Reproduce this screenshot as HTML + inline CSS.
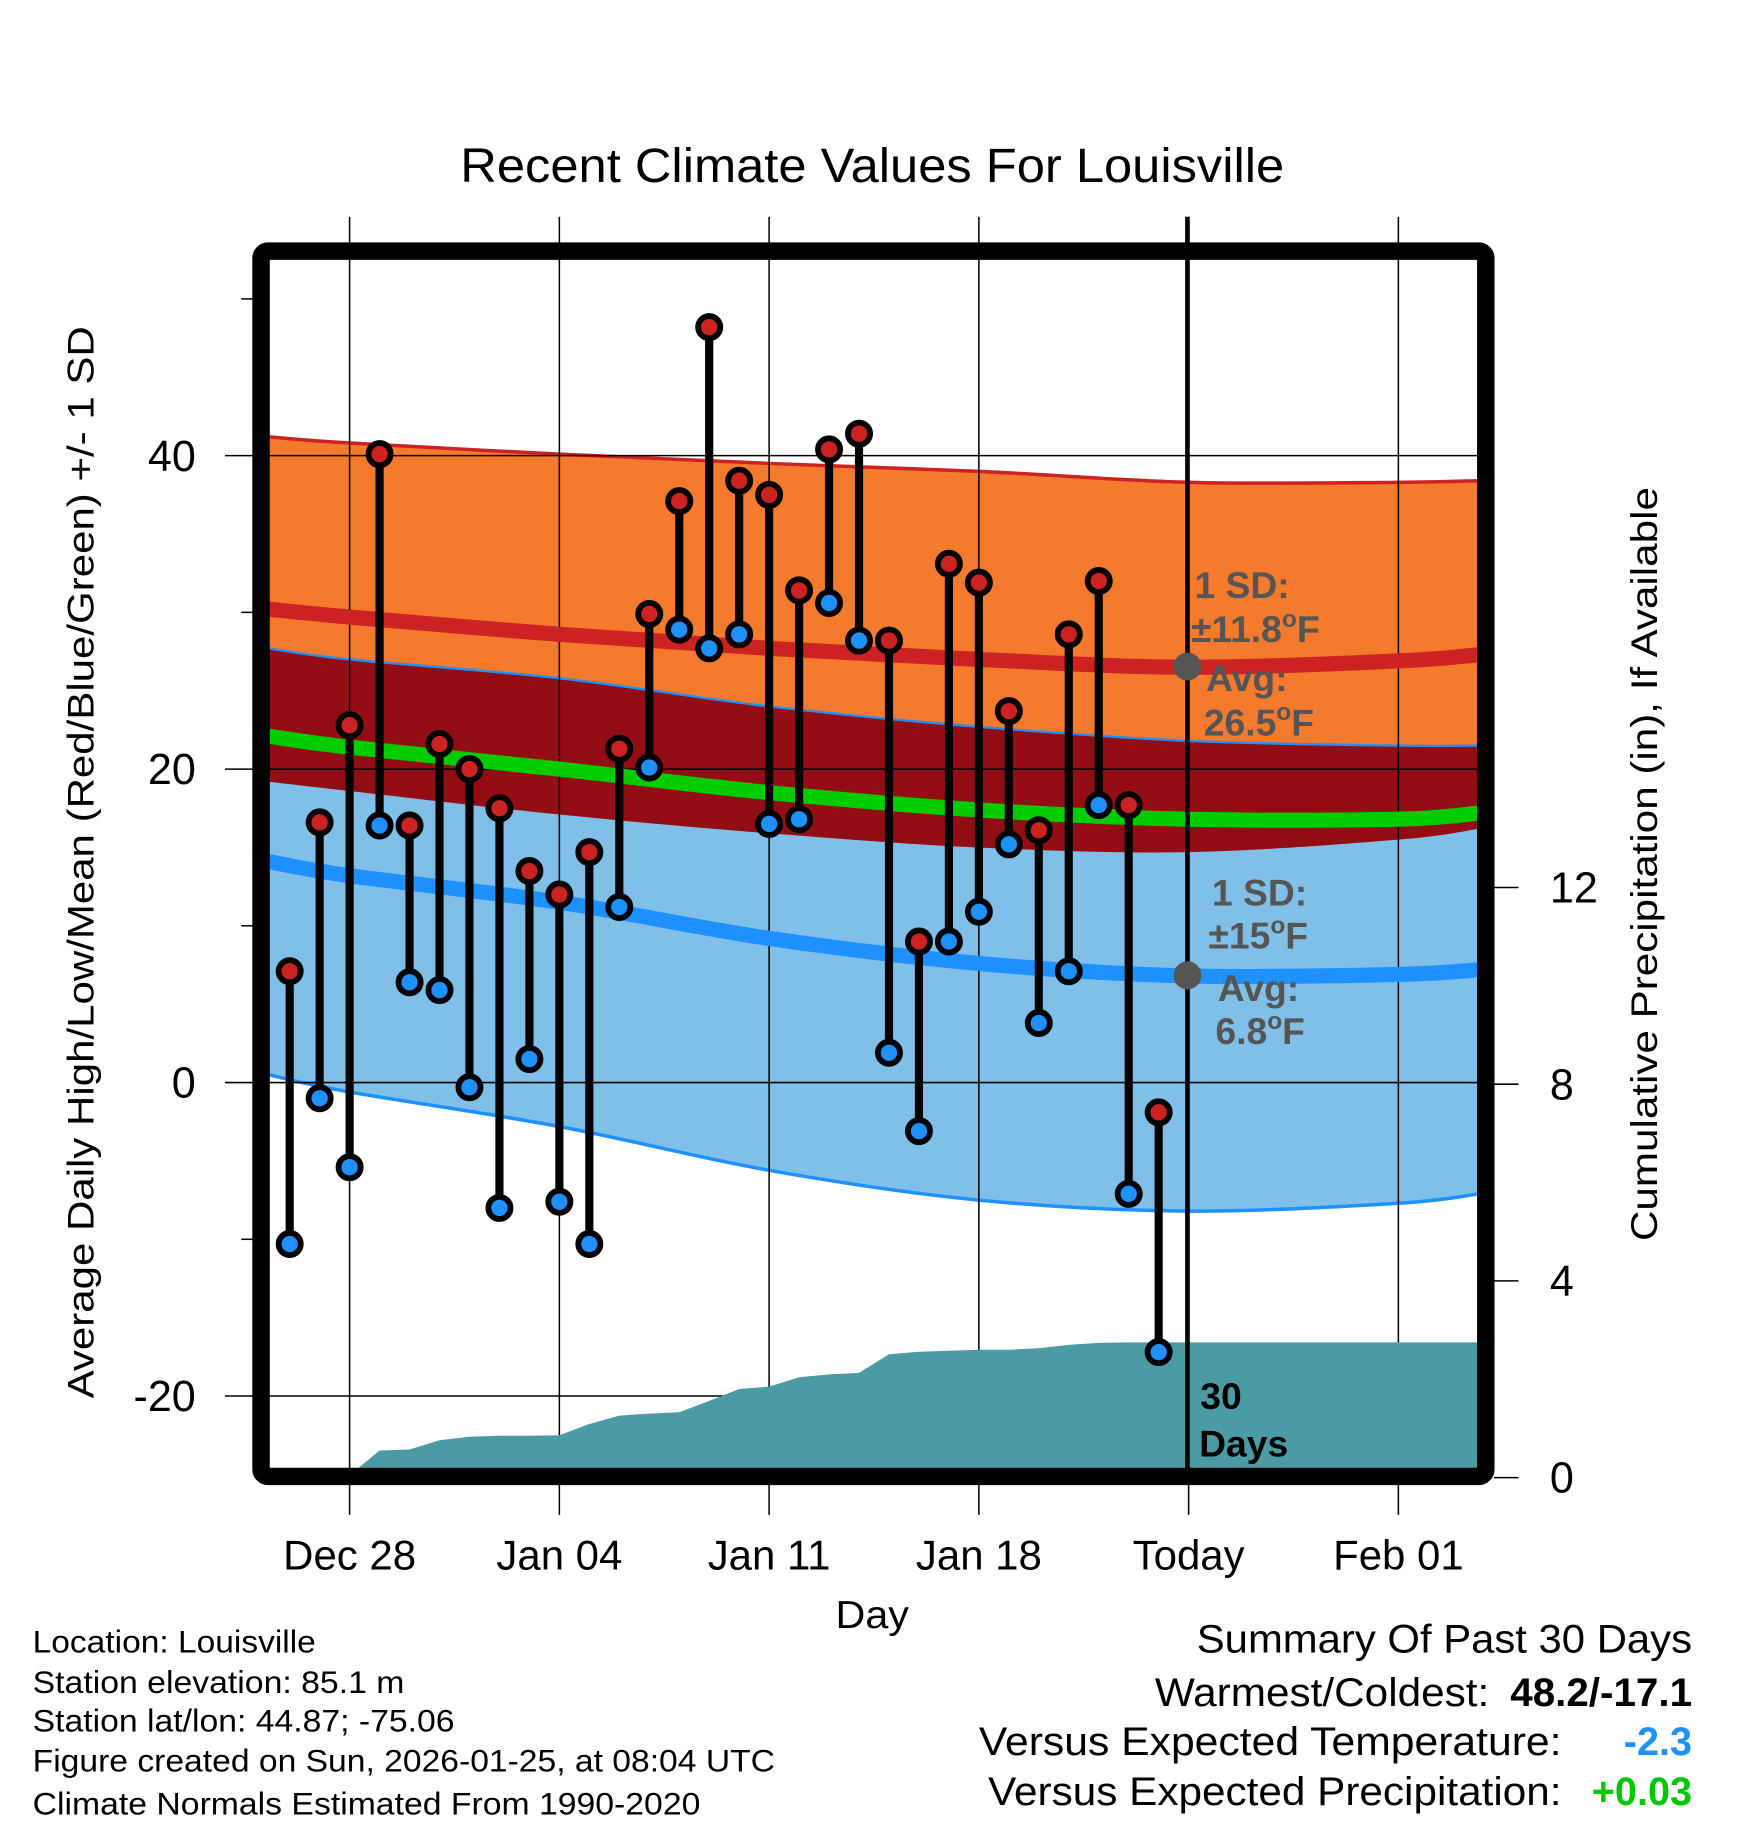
<!DOCTYPE html>
<html><head><meta charset="utf-8"><style>
html,body{margin:0;padding:0;background:#fff;}
svg{display:block;font-family:"Liberation Sans",Arial,sans-serif;}
</style></head><body>
<svg id="chart" width="1748" height="1828" viewBox="0 0 1500 1568.7" xmlns="http://www.w3.org/2000/svg">
<defs><clipPath id="plotclip"><rect x="231" y="223" width="1037" height="1037"/></clipPath></defs>
<g id="bands" clip-path="url(#plotclip)"></g>
<g id="grid"></g>
<g id="precip" clip-path="url(#plotclip)"></g>
<g id="means" clip-path="url(#plotclip)"></g>
<line x1="1019" y1="186" x2="1019" y2="1262" stroke="#000" stroke-width="4"/>
<g id="marks"></g>
<rect x="224" y="215.5" width="1051" height="1051.5" rx="6" fill="none" stroke="#000" stroke-width="15"/>
<g id="axes"></g>
<text x="395" y="156" font-size="41" textLength="707" lengthAdjust="spacingAndGlyphs">Recent Climate Values For Louisville</text>
<text transform="translate(80,1200) rotate(-90)" font-size="32" textLength="920" lengthAdjust="spacingAndGlyphs">Average Daily High/Low/Mean (Red/Blue/Green) +/- 1 SD</text>
<text transform="translate(1422,1065) rotate(-90)" font-size="32" textLength="647" lengthAdjust="spacingAndGlyphs">Cumulative Precipitation (in), If Available</text>
<text x="717" y="1397" font-size="33" textLength="63" lengthAdjust="spacingAndGlyphs">Day</text>
<g font-weight="bold" font-size="32" fill="#555">
<circle cx="1019" cy="572" r="12" fill="#555"/>
<circle cx="1019" cy="837" r="12" fill="#555"/>
<text x="1025" y="513">1 SD:</text>
<text x="1022" y="551">±11.8<tspan font-size="21" dy="-13">o</tspan><tspan dy="13">F</tspan></text>
<text x="1035" y="593">Avg:</text>
<text x="1033" y="631">26.5<tspan font-size="21" dy="-13">o</tspan><tspan dy="13">F</tspan></text>
<text x="1040" y="777">1 SD:</text>
<text x="1037" y="814">±15<tspan font-size="21" dy="-13">o</tspan><tspan dy="13">F</tspan></text>
<text x="1045" y="859">Avg:</text>
<text x="1043" y="896">6.8<tspan font-size="21" dy="-13">o</tspan><tspan dy="13">F</tspan></text>
</g>
<text x="1030" y="1209" font-size="32" font-weight="bold">30</text>
<text x="1029" y="1250" font-size="32" font-weight="bold">Days</text>
<g font-size="27">
<text x="28" y="1418" textLength="243" lengthAdjust="spacingAndGlyphs">Location: Louisville</text>
<text x="28" y="1453" textLength="319" lengthAdjust="spacingAndGlyphs">Station elevation: 85.1 m</text>
<text x="28" y="1486" textLength="362" lengthAdjust="spacingAndGlyphs">Station lat/lon: 44.87; -75.06</text>
<text x="28" y="1520" textLength="637" lengthAdjust="spacingAndGlyphs">Figure created on Sun, 2026-01-25, at 08:04 UTC</text>
<text x="28" y="1557" textLength="573" lengthAdjust="spacingAndGlyphs">Climate Normals Estimated From 1990-2020</text>
</g>
<g font-size="34">
<text x="1027" y="1418" textLength="425" lengthAdjust="spacingAndGlyphs">Summary Of Past 30 Days</text>
<text x="991" y="1464" textLength="287" lengthAdjust="spacingAndGlyphs">Warmest/Coldest:</text>
<text x="1296" y="1464" font-weight="bold" textLength="156" lengthAdjust="spacingAndGlyphs">48.2/-17.1</text>
<text x="840" y="1506" textLength="500" lengthAdjust="spacingAndGlyphs">Versus Expected Temperature:</text>
<text x="1452" y="1506" text-anchor="end" font-weight="bold" fill="#1e90ff">-2.3</text>
<text x="848" y="1549" textLength="492" lengthAdjust="spacingAndGlyphs">Versus Expected Precipitation:</text>
<text x="1452" y="1549" text-anchor="end" font-weight="bold" fill="#00c800">+0.03</text>
</g>
</svg>
<script>
// Days relative to Dec 28 (0)
const normalDays = [-2.7, 0, 7, 14, 21, 28, 35, 37.7];
const highMean = [30.2, 29.7, 28.6, 27.7, 27.0, 26.5, 26.9, 27.3];
const highSD = [11.0, 11.1, 11.5, 11.8, 12.0, 11.8, 11.4, 11.1];
const lowMean = [14.1, 13.2, 11.5, 9.2, 7.6, 6.8, 6.9, 7.2];
const lowSD = [13.6, 13.8, 14.3, 14.8, 15.1, 15.0, 14.6, 14.3];
const avgMean = [22.1, 21.4, 20.0, 18.5, 17.4, 16.8, 16.8, 17.2];
// Observations Dec 26 .. Jan 24 (day offsets -2 .. 27)
const obsDays = [-2,-1,0,1,2,3,4,5,6,7,8,9,10,11,12,13,14,15,16,17,18,19,20,21,22,23,24,25,26,27];
const highs = [7.1,16.6,22.8,40.1,16.4,21.6,20.0,17.5,13.5,12.0,14.7,21.3,29.9,37.1,48.2,38.4,37.5,31.4,40.4,41.4,28.2,9.0,33.1,31.9,23.7,16.1,28.6,32.0,17.7,-1.9];
const lows = [-10.3,-1.0,-5.4,16.4,6.4,5.9,-0.3,-8.0,1.5,-7.6,-10.3,11.2,20.1,28.9,27.7,28.6,16.5,16.8,30.6,28.2,1.9,-3.1,9.0,10.9,15.2,3.8,7.1,17.7,-7.1,-17.2];
const precipCum = [0,0,0.05,0.55,0.57,0.76,0.83,0.85,0.85,0.86,1.09,1.26,1.30,1.33,1.56,1.80,1.85,2.04,2.10,2.13,2.51,2.56,2.58,2.60,2.60,2.63,2.70,2.74,2.75,2.75];
const xTickDays = [0,7,14,21,28,35];
const xTickLabels = ["Dec 28","Jan 04","Jan 11","Jan 18","Today","Feb 01"];
const yTicks = [-20,0,20,40];
const yMinorTicks = [-10,10,30,50];
const pTicks = [0,4,8,12];

const X = d => 300 + d*25.714;
const Y = v => 929 - v*13.45;
const P = v => 1268 - v*42.2;
const NS = "http://www.w3.org/2000/svg";
function mk(tag, parent, attrs){const e=document.createElementNS(NS,tag);for(const k in attrs)e.setAttribute(k,attrs[k]);parent.appendChild(e);return e;}
function xy(xs, ys){return xs.map((d,i)=>[X(d), Y(ys[i])]);}
// Catmull-Rom smooth path segments through points (no leading M)
function smooth(p){
  let s = "";
  for(let i=0;i<p.length-1;i++){
    const p0=p[Math.max(0,i-1)], p1=p[i], p2=p[i+1], p3=p[Math.min(p.length-1,i+2)];
    const c1=[p1[0]+(p2[0]-p0[0])/6, p1[1]+(p2[1]-p0[1])/6];
    const c2=[p2[0]-(p3[0]-p1[0])/6, p2[1]-(p3[1]-p1[1])/6];
    s += " C"+c1[0].toFixed(1)+","+c1[1].toFixed(1)+" "+c2[0].toFixed(1)+","+c2[1].toFixed(1)+" "+p2[0].toFixed(1)+","+p2[1].toFixed(1);
  }
  return s;
}
function line(p){return "M"+p[0][0].toFixed(1)+","+p[0][1].toFixed(1)+smooth(p);}
function area(a,b){
  const br = b.slice().reverse();
  return line(a)+" L"+br[0][0].toFixed(1)+","+br[0][1].toFixed(1)+smooth(br)+" Z";
}
const add = (arrA, arrB, sign) => arrA.map((v,i)=>v+sign*arrB[i]);
const highUp = add(highMean, highSD, 1), highDn = add(highMean, highSD, -1);
const lowUp = add(lowMean, lowSD, 1), lowDn = add(lowMean, lowSD, -1);

const bands = document.getElementById('bands');
let e;
e = mk('path', bands, {d: area(xy(normalDays,highUp), xy(normalDays,highDn)), fill:'#f47a2e'});
 
e = mk('path', bands, {d: area(xy(normalDays,lowUp), xy(normalDays,lowDn)), fill:'#80c0e8'});
 
e = mk('path', bands, {d: area(xy(normalDays,lowUp), xy(normalDays,highDn)), fill:'#930d14'});
 
e = mk('path', bands, {d: line(xy(normalDays,lowUp)), fill:'none', stroke:'#1e90ff', 'stroke-width':2});
 
e = mk('path', bands, {d: line(xy(normalDays,lowDn)), fill:'none', stroke:'#1e90ff', 'stroke-width':3});
 
e = mk('path', bands, {d: line(xy(normalDays,highUp)), fill:'none', stroke:'#cc2222', 'stroke-width':3});
 

// grid
const grid = document.getElementById('grid');
xTickDays.forEach(d=>{
  e = mk('line', grid, {x1:X(d), x2:X(d), y1:186, y2:1300, stroke:'#000','stroke-width':1.3});
   
});
yTicks.forEach(v=>{
  e = mk('line', grid, {x1:193, x2:1268, y1:Y(v), y2:Y(v), stroke:'#000','stroke-width':1.3});
   
});
yMinorTicks.forEach(v=>{
  e = mk('line', grid, {x1:207, x2:220, y1:Y(v), y2:Y(v), stroke:'#000','stroke-width':1.3});
   
});
// precip
const precip = document.getElementById('precip');
{
  let d = "M231,"+P(0)+" L"+(X(obsDays[2])-12).toFixed(1)+","+P(0);
  obsDays.forEach((dd,i)=>{ if(i>=2) d += " L"+X(dd).toFixed(1)+","+P(precipCum[i]).toFixed(1); });
  d += " L1268,"+P(precipCum[precipCum.length-1]).toFixed(1)+" L1268,1268 L231,1268 Z";
  e = mk('path', precip, {d:d, fill:'#4a9ba4'});
   
}
// mean lines
const means = document.getElementById('means');
e = mk('path', means, {d: line(xy(normalDays,highMean)), fill:'none', stroke:'#cc2222','stroke-width':13});
 
e = mk('path', means, {d: line(xy(normalDays,avgMean)), fill:'none', stroke:'#00cc00','stroke-width':13});
 
e = mk('path', means, {d: line(xy(normalDays,lowMean)), fill:'none', stroke:'#1e90ff','stroke-width':13});
 
// markers
const marks = document.getElementById('marks');
obsDays.forEach((d,i)=>{
  const x = X(d);
  e = mk('line', marks, {x1:x, x2:x, y1:Y(highs[i]), y2:Y(lows[i]), stroke:'#000','stroke-width':7});
   
  e = mk('circle', marks, {cx:x, cy:Y(highs[i]), r:9.5, fill:'#cc2222', stroke:'#000','stroke-width':5});
   
  e = mk('circle', marks, {cx:x, cy:Y(lows[i]), r:9.5, fill:'#1e90ff', stroke:'#000','stroke-width':5});
   
});
// axes labels
const axes = document.getElementById('axes');
xTickDays.forEach((d,i)=>{
  e = mk('text', axes, {x:X(d), y:1347, 'font-size':36, 'text-anchor':'middle'});
  e.textContent = xTickLabels[i];
   
});
yTicks.forEach(v=>{
  e = mk('text', axes, {x:168, y:Y(v)+13, 'font-size':37, 'text-anchor':'end'});
  e.textContent = String(v);
   
});
pTicks.forEach(v=>{
  e = mk('line', axes, {x1:1282, x2:1303, y1:P(v), y2:P(v), stroke:'#000','stroke-width':1.3});
   
  e = mk('text', axes, {x:1330, y:P(v)+13, 'font-size':37});
  e.textContent = String(v);
   
});
</script>
</body></html>
